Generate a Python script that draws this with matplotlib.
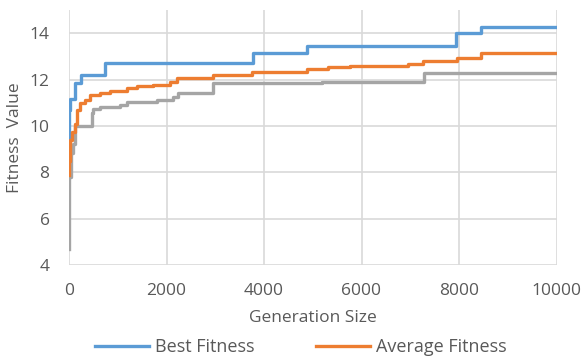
import matplotlib
matplotlib.use("Agg")
import matplotlib.pyplot as plt

best_x = [0, 0, 20, 130, 240, 738, 3780, 4876, 7938, 8445, 10000]
best_y = [9.3, 10.7, 11.15, 11.85, 12.19, 12.72, 13.15, 13.46, 14.02, 14.27, 14.27]

avg_x = [0, 5, 20, 55, 123, 158, 226, 328, 431, 636, 841, 1183, 1389, 1723, 2072,
         2209, 2960, 3750, 4876, 5313, 5764, 6954, 7262, 7953, 8445, 10000]
avg_y = [7.9, 8.5, 9.4, 9.75, 10.1, 10.68, 10.97, 11.11, 11.33, 11.4, 11.52, 11.62,
         11.72, 11.76, 11.9, 12.08, 12.19, 12.34, 12.44, 12.52, 12.6, 12.66, 12.82,
         12.92, 13.13, 13.16]

worst_x = [0, 10, 41, 88, 123, 465, 498, 636, 1046, 1183, 1800, 2133, 2236, 2960,
           5183, 7282, 10000]
worst_y = [4.7, 7.8, 8.83, 9.24, 10.0, 10.54, 10.75, 10.82, 10.9, 11.04, 11.11,
           11.25, 11.4, 11.83, 11.9, 12.27, 12.27]

x_ticks = [0, 2000, 4000, 6000, 8000, 10000]
y_ticks = [4, 6, 8, 10, 12, 14]

plt.rcParams['font.family'] = ['Open Sans', 'DejaVu Sans']
txt = '#595959'
grid = '#d9d9d9'

fig = plt.figure(figsize=(5.85, 3.58), dpi=100)
ax = fig.add_axes([69/585, 1-265/358, (556.5-69)/585, (265-10)/358])

l1, = ax.plot(best_x, best_y, drawstyle='steps-post', color='#5B9BD5', lw=2.4,
              label='Best Fitness', zorder=3)
l2, = ax.plot(avg_x, avg_y, drawstyle='steps-post', color='#ED7D31', lw=2.4,
              label='Average Fitness', zorder=3)
l3, = ax.plot(worst_x, worst_y, drawstyle='steps-post', color='#A5A5A5', lw=2.4,
              label='Worst Fitness', zorder=2)

ax.set_xlim(0, 10000)
ax.set_ylim(4, 15)
ax.set_xticks(x_ticks)
ax.set_yticks(y_ticks)
for s in ax.spines.values():
    s.set_visible(False)
ax.tick_params(axis='x', length=0, labelsize=12.5, colors=txt, pad=13)
ax.tick_params(axis='y', length=0, labelsize=12.5, colors=txt, pad=14)
ax.grid(True, color=grid, lw=1.2, zorder=0)
ax.set_axisbelow(True)
ax.set_xlabel('Generation Size', fontsize=12.5, color=txt, labelpad=8)
ax.set_ylabel('Fitness  Value', fontsize=12.5, color=txt, labelpad=5)

fig.legend(handles=[l1, l2], loc='center left', bbox_to_anchor=(95/585, 1-347/358),
           ncol=2, frameon=False, fontsize=13, handlelength=3.0, handletextpad=0.33,
           columnspacing=3.4, labelcolor=txt, borderaxespad=0, borderpad=0)

fig.savefig('out.png', dpi=100)
